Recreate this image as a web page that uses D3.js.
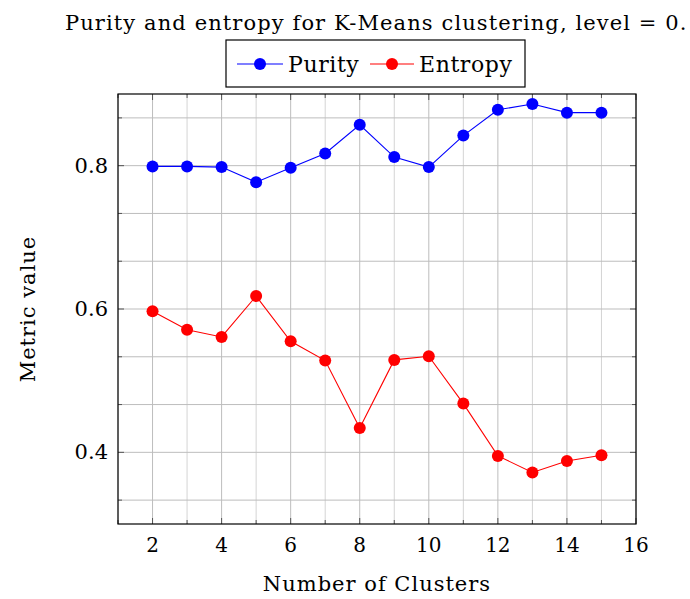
<!DOCTYPE html>
<html>
<head>
<meta charset="utf-8">
<script src="https://cdn.jsdelivr.net/npm/d3@7"></script>
<style>
  body { margin: 0; background: #fff; }
  svg text { font-family: "DejaVu Serif", "Liberation Serif", serif; fill: #000; }
</style>
</head>
<body>
<div id="chart"></div>
<script>
// Data
const clusters = [2, 3, 4, 5, 6, 7, 8, 9, 10, 11, 12, 13, 14, 15];
const purity = [0.799, 0.799, 0.798, 0.777, 0.797, 0.817, 0.857, 0.812, 0.798, 0.842, 0.878, 0.886, 0.874, 0.874];
const entropy = [0.597, 0.571, 0.561, 0.618, 0.555, 0.528, 0.434, 0.529, 0.534, 0.468, 0.395, 0.372, 0.388, 0.396];
const xTicks = [2, 4, 6, 8, 10, 12, 14, 16];
const yTicks = [0.4, 0.6, 0.8];
const seriesNames = ["Purity", "Entropy"];
const seriesColors = ["#0000ff", "#ff0000"];

const width = 690, height = 599;
const margin = {top: 94, right: 54, bottom: 75, left: 118};

const svg = d3.select("#chart").append("svg")
    .attr("width", width)
    .attr("height", height);

const x = d3.scaleLinear().domain([1, 16]).range([margin.left, width - margin.right]);
const y = d3.scaleLinear().domain([0.3, 0.9]).range([height - margin.bottom, margin.top]);

// grid lines: every 1 in x, every 1/15 in y
const xGrid = d3.range(1, 17);
const yGrid = d3.range(5, 14).map(k => k / 15);

const grid = svg.append("g");
grid.selectAll("line.gx")
    .data(xGrid)
    .enter().append("line")
    .attr("x1", d => x(d)).attr("x2", d => x(d))
    .attr("y1", y(0.3)).attr("y2", y(0.9))
    .attr("stroke", d => d % 2 === 0 ? "#bdbdbd" : "#d4d4d4")
    .attr("stroke-width", 1);
grid.selectAll("line.gy")
    .data(yGrid)
    .enter().append("line")
    .attr("x1", x(1)).attr("x2", x(16))
    .attr("y1", d => y(d)).attr("y2", d => y(d))
    .attr("stroke", "#bdbdbd")
    .attr("stroke-width", 1);

// inward tick marks on all four sides
const ticks = svg.append("g").attr("stroke", "#555").attr("stroke-width", 1);
xGrid.forEach(d => {
    const len = d % 2 === 0 ? 6 : 4;
    ticks.append("line").attr("x1", x(d)).attr("x2", x(d)).attr("y1", y(0.3)).attr("y2", y(0.3) - len);
    ticks.append("line").attr("x1", x(d)).attr("x2", x(d)).attr("y1", y(0.9)).attr("y2", y(0.9) + len);
});
yGrid.forEach(d => {
    const major = yTicks.some(t => Math.abs(t - d) < 1e-6);
    const len = major ? 6 : 4;
    ticks.append("line").attr("x1", x(1)).attr("x2", x(1) + len).attr("y1", y(d)).attr("y2", y(d));
    ticks.append("line").attr("x1", x(16)).attr("x2", x(16) - len).attr("y1", y(d)).attr("y2", y(d));
});

// frame
svg.append("rect")
    .attr("x", x(1)).attr("y", y(0.9))
    .attr("width", x(16) - x(1)).attr("height", y(0.3) - y(0.9))
    .attr("fill", "none").attr("stroke", "#000").attr("stroke-width", 1.2);

// tick labels
svg.append("g").selectAll("text")
    .data(xTicks)
    .enter().append("text")
    .attr("x", d => x(d)).attr("y", y(0.3) + 28)
    .attr("text-anchor", "middle")
    .attr("font-size", 20)
    .text(d => d);
svg.append("g").selectAll("text")
    .data(yTicks)
    .enter().append("text")
    .attr("x", x(1) - 10).attr("y", d => y(d) + 7)
    .attr("text-anchor", "end")
    .attr("font-size", 21)
    .text(d => d3.format(".1f")(d));

// axis labels
svg.append("text")
    .attr("x", (x(1) + x(16)) / 2).attr("y", 591)
    .attr("text-anchor", "middle")
    .attr("font-size", 21)
    .attr("letter-spacing", 1)
    .text("Number of Clusters");
svg.append("text")
    .attr("transform", `translate(35,${(y(0.3) + y(0.9)) / 2}) rotate(-90)`)
    .attr("text-anchor", "middle")
    .attr("font-size", 21)
    .attr("letter-spacing", 1)
    .text("Metric value");

// title
svg.append("text")
    .attr("x", 65).attr("y", 30)
    .attr("font-size", 21)
    .attr("letter-spacing", 1.1)
    .text("Purity and entropy for K-Means clustering, level = 0.");

// series
const line = d3.line().x(d => x(d[0])).y(d => y(d[1]));
[purity, entropy].forEach((vals, i) => {
    const pts = clusters.map((c, j) => [c, vals[j]]);
    const g = svg.append("g");
    g.append("path")
        .attr("d", line(pts))
        .attr("fill", "none")
        .attr("stroke", seriesColors[i])
        .attr("stroke-width", 1.1);
    g.selectAll("circle")
        .data(pts)
        .enter().append("circle")
        .attr("cx", d => x(d[0])).attr("cy", d => y(d[1]))
        .attr("r", 6)
        .attr("fill", seriesColors[i]);
});

// legend
const legend = svg.append("g");
legend.append("rect")
    .attr("x", 226).attr("y", 40).attr("width", 299).attr("height", 47)
    .attr("fill", "#fff").attr("stroke", "#000").attr("stroke-width", 1.2);
const legendItems = [{x0: 237, x1: 283, tx: 288}, {x0: 370, x1: 414, tx: 419}];
legendItems.forEach((it, i) => {
    legend.append("line")
        .attr("x1", it.x0).attr("x2", it.x1).attr("y1", 64).attr("y2", 64)
        .attr("stroke", seriesColors[i]).attr("stroke-width", 1.1);
    legend.append("circle")
        .attr("cx", (it.x0 + it.x1) / 2).attr("cy", 64).attr("r", 6)
        .attr("fill", seriesColors[i]);
    legend.append("text")
        .attr("x", it.tx).attr("y", 72)
        .attr("font-size", 22)
        .attr("letter-spacing", 0.6)
        .text(seriesNames[i]);
});
</script>
</body>
</html>
